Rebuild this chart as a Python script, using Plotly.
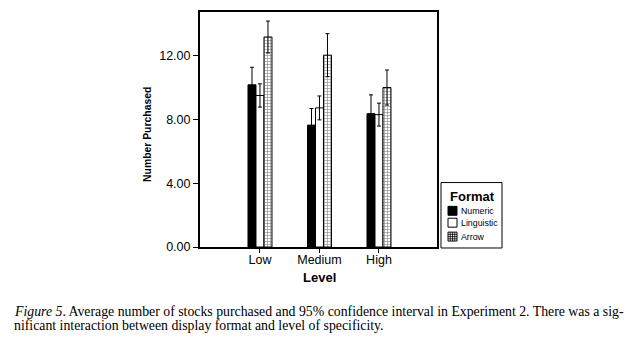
import plotly.graph_objects as go

levels = ["Low", "Medium", "High"]
numeric = [10.18, 7.65, 8.37]
numeric_err = [1.10, 1.04, 1.18]
linguistic = [9.51, 8.73, 8.31]
linguistic_err = [0.73, 0.75, 0.72]
arrow = [13.18, 12.04, 10.01]
arrow_err = [1.00, 1.35, 1.10]
y_ticks = [0, 4, 8, 12]
y_ticklabels = ["0.00", "4.00", "8.00", "12.00"]
legend_labels = ["Numeric", "Linguistic", "Arrow"]

SANS = "Liberation Sans, Arial, sans-serif"
SERIF = "Liberation Serif, Times New Roman, serif"

W, H = 631, 341
PL, PR, PT, PB = 200, 437, 10, 247  # plot area in pixels


def px(x):
    return (x - PL) / (PR - PL)


def py(y):
    return (PB - y) / (PB - PT)


err_style = dict(type="data", thickness=1, width=2, color="black")
grid_pattern = dict(shape="+", size=3, solidity=0.35, fgcolor="black",
                    bgcolor="white", fillmode="overlay")

fig = go.Figure()
fig.add_trace(go.Bar(
    name=legend_labels[0], x=levels, y=numeric, showlegend=False,
    error_y=dict(array=numeric_err, **err_style),
    marker=dict(color="black", line=dict(color="black", width=1)),
))
fig.add_trace(go.Bar(
    name=legend_labels[1], x=levels, y=linguistic, showlegend=False,
    error_y=dict(array=linguistic_err, **err_style),
    marker=dict(color="white", line=dict(color="black", width=1)),
))
fig.add_trace(go.Bar(
    name=legend_labels[2], x=levels, y=arrow, showlegend=False,
    error_y=dict(array=arrow_err, **err_style),
    marker=dict(color="white", line=dict(color="black", width=1), pattern=grid_pattern),
))

fig.update_layout(
    width=W, height=H,
    margin=dict(l=PL, r=W - PR, t=PT, b=H - PB),
    paper_bgcolor="white", plot_bgcolor="white",
    barmode="group", bargap=0.597, bargroupgap=0,
    font=dict(family=SANS, color="black", size=12),
    showlegend=False,
    xaxis=dict(
        range=[-1.008, 2.975],
        showline=True, linecolor="black", linewidth=2, mirror=True,
        ticks="outside", ticklen=4, tickwidth=1, tickcolor="black",
        ticklabelstandoff=-4,
        tickfont=dict(size=12.5),
        showgrid=False, zeroline=False,
    ),
    yaxis=dict(
        range=[0, 14.75],
        tickvals=y_ticks, ticktext=y_ticklabels,
        showline=True, linecolor="black", linewidth=2, mirror=True,
        ticks="outside", ticklen=5, tickwidth=1, tickcolor="black",
        tickfont=dict(size=12.5),
        showgrid=False, zeroline=False,
    ),
)

# axis titles
fig.add_annotation(xref="paper", yref="paper", x=px(319), y=py(277.5),
                   text="<b>Level</b>", showarrow=False,
                   font=dict(size=13, family=SANS), xanchor="center", yanchor="middle")
fig.add_annotation(xref="paper", yref="paper", x=px(148), y=py(134),
                   text="<b>Number Purchased</b>", showarrow=False, textangle=-90,
                   font=dict(size=10.4, family=SANS), xanchor="center", yanchor="middle")

# legend (drawn manually to match compact spacing)
shapes = []
shapes.append(dict(type="rect", xref="paper", yref="paper",
                   x0=px(441), x1=px(502), y0=py(248), y1=py(182),
                   line=dict(color="black", width=1), fillcolor="white"))
fig.add_annotation(xref="paper", yref="paper", x=px(447.5), y=py(196.5),
                   text="<b>Format</b>", showarrow=False, xanchor="left", yanchor="middle",
                   font=dict(size=13, family=SANS))
rows = [210.5, 222.5, 236.5]
fills = ["black", "white", "white"]
for lab, cy, fc in zip(legend_labels, rows, fills):
    shapes.append(dict(type="rect", xref="paper", yref="paper",
                       x0=px(448), x1=px(457), y0=py(cy + 4.5), y1=py(cy - 4.5),
                       line=dict(color="black", width=1), fillcolor=fc))
    fig.add_annotation(xref="paper", yref="paper", x=px(458.5), y=py(cy),
                       text=lab, showarrow=False, xanchor="left", yanchor="middle",
                       font=dict(size=8.8, family=SANS))
# grid inside arrow swatch
cy = rows[2]
for k in range(1, 4):
    gx = 448 + k * 2.25
    shapes.append(dict(type="line", xref="paper", yref="paper",
                       x0=px(gx), x1=px(gx), y0=py(cy + 4.5), y1=py(cy - 4.5),
                       line=dict(color="black", width=0.8)))
    gy = cy - 4.5 + k * 2.25
    shapes.append(dict(type="line", xref="paper", yref="paper",
                       x0=px(448), x1=px(457), y0=py(gy), y1=py(gy),
                       line=dict(color="black", width=0.8)))
fig.update_layout(shapes=shapes)

# caption
caption_lines = [
    "<i>Figure 5</i>. Average number of stocks purchased and 95% confidence interval in Experiment 2. There was a sig-",
    "nificant interaction between display format and level of specificity.",
]
for line, cy in zip(caption_lines, [311.7, 325.7]):
    fig.add_annotation(xref="paper", yref="paper", x=px(12), y=py(cy),
                       xanchor="left", yanchor="middle", align="left", showarrow=False,
                       text=line, font=dict(family=SERIF, size=13.8, color="black"))

fig.write_html("out.html")
